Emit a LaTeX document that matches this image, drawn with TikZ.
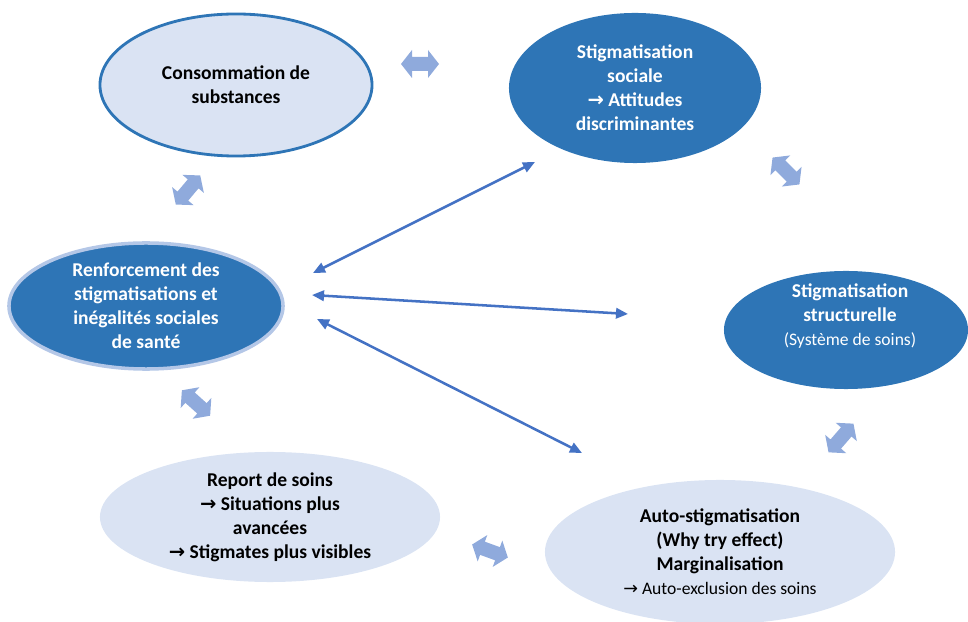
\documentclass[tikz,border=0pt]{standalone}
\usepackage{fontspec}
\setmainfont{Carlito}
\newfontfamily\symfont{DejaVu Sans}
\usetikzlibrary{shapes.geometric,arrows.meta}
\definecolor{darkblue}{HTML}{2E75B6}
\definecolor{paleblue}{HTML}{DAE3F3}
\definecolor{rimblue}{HTML}{B4C7E7}
\definecolor{swapblue}{HTML}{8FAADC}
\definecolor{linkblue}{HTML}{4472C4}
\def\ra{{\symfont\char"2192}\ }
\def\swaparrow(#1)(#2){\fill[swapblue, shift={(#1)}, rotate=#2] (-19,0) -- (-8,14) -- (-8,7) -- (8,7) -- (8,14) -- (19,0) -- (8,-14) -- (8,-7) -- (-8,-7) -- (-8,-14) -- cycle;}

\begin{document}
\begin{tikzpicture}[x=0.025cm, y=-0.025cm,
  bubble/.style={ellipse, inner sep=0pt, align=center, font=\bfseries\fontsize{13.9}{17}\selectfont},
  darkbubble/.style={bubble, fill=darkblue, text=white},
  palebubble/.style={bubble, fill=paleblue, text=black},
  link/.style={{Triangle[length=3mm,width=2.6mm]}-{Triangle[length=3mm,width=2.6mm]}, line width=1.8pt, draw=linkblue}]
			%%%%% FRAME %%%%%
			\useasboundingbox (0,0) rectangle (968,622);
			
			%%%%% BUBBLES %%%%%
			\node[palebubble, draw=darkblue, line width=2pt, minimum width=6.8cm, minimum height=3.55cm] (conso) at (236,85) {Consommation de\\substances};
			\node[darkbubble, minimum width=6.3cm, minimum height=3.75cm] (sociale) at (635,88) {Stigmatisation\\sociale\\\ra Attitudes\\discriminantes};
			\node[darkbubble, draw=rimblue, line width=2.5pt, minimum width=6.85cm, minimum height=3.15cm] (renfo) at (146,306) {Renforcement des\\stigmatisations et\\inégalités sociales\\de santé};
			\node[darkbubble, minimum width=6.1cm, minimum height=2.95cm] (struct) at (846,330) {};
			\node[bubble, text=white] (structtxt) at (850,316) {Stigmatisation\\structurelle\\{\mdseries\fontsize{12.5}{17}\selectfont(Système de soins)}};
			\node[palebubble, minimum width=8.5cm, minimum height=3.25cm] (report) at (270,517) {Report de soins\\\ra Situations plus\\avancées\\\ra Stigmates plus visibles};
			\node[palebubble, minimum width=8.75cm, minimum height=3.6cm] (auto) at (720,552) {Auto-stigmatisation\\(Why try effect)\\Marginalisation\\{\mdseries\fontsize{12.5}{17}\selectfont\ra Auto-exclusion des soins}};
			
			%%%%% SWAP ARROWS %%%%%
			\swaparrow(420,64)(0);
			\swaparrow(188,190)(50);
			\swaparrow(786,171)(-45);
			\swaparrow(196,403)(-42);
			\swaparrow(841,438)(49);
			\swaparrow(490,551)(-20);
			
			%%%%% LINKS %%%%%
			\coordinate (l1a) at (313,273);
			\coordinate (l1b) at (535,162);
			\coordinate (l2a) at (312,295);
			\coordinate (l2b) at (628,314);
			\coordinate (l3a) at (317,319);
			\coordinate (l3b) at (582,453);
			\draw[link] (l1a) -- (l1b);
			\draw[link] (l2a) -- (l2b);
			\draw[link] (l3a) -- (l3b);
\end{tikzpicture}
\end{document}
